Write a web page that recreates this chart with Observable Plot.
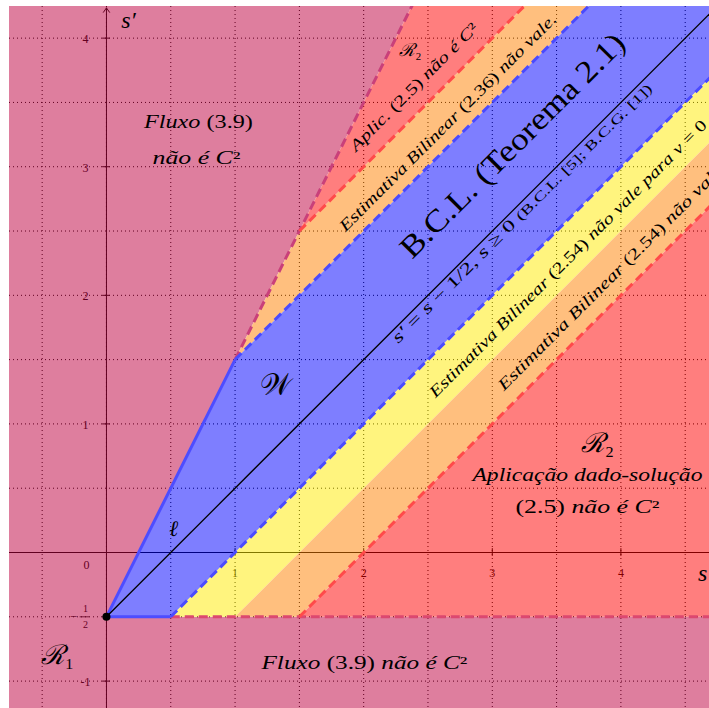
<!DOCTYPE html>
<html>
<head>
<meta charset="utf-8">
<script src="https://cdn.jsdelivr.net/npm/d3@7"></script>
<script src="https://cdn.jsdelivr.net/npm/@observablehq/plot@0.6"></script>
<style>
  html, body { margin: 0; padding: 0; background: #fff; }
  #chart svg { display: block; }
  #chart svg text, #chart svg tspan { font-family: "Liberation Serif", "DejaVu Serif", serif; }
</style>
</head>
<body>
<div id="chart"></div>
<script>
// ---------- data (in chart units: s horizontal, s' vertical) ----------
const sDomain = [-0.754, 4.689];
const spDomain = [-1.213, 4.246];

const gridS = [-0.5, 0, 0.5, 1, 1.5, 2, 2.5, 3, 3.5, 4, 4.5];
const gridSp = [-1, -0.5, 0, 0.5, 1, 1.5, 2, 2.5, 3, 3.5, 4];

const sTickValues = [1, 2, 3, 4];
const sTickLabels = ["1", "2", "3", "4"];
const originLabel = "0";
const spTickValues = [-1, 1, 2, 3, 4];
const spTickLabels = ["-1", "1", "2", "3", "4"];
const spTickMarks = [-1, -0.5, 1, 2, 3, 4];
const halfTick = -0.5; // labelled as the fraction -1/2

// region polygons (vertices), names and colours (drawn at 50% opacity)
const regionNames = ["R1", "R2 top", "orange top", "W", "yellow", "orange low", "R2 low"];
const regionColors = ["#bf0040", "#ff0000", "#ff8000", "#0000ff", "#ffeb00", "#ff8000", "#ff0000"];
const regionVertices = [
  [[-1, -2], [6, -2], [6, -0.5], [0, -0.5], [2.5, 4.5], [-1, 4.5]],
  [[1.5, 2.5], [2.5, 4.5], [3.5, 4.5]],
  [[1, 1.5], [1.5, 2.5], [3.5, 4.5], [4, 4.5]],
  [[0, -0.5], [1, 1.5], [4, 4.5], [5.5, 4.5], [0.5, -0.5]],
  [[0.5, -0.5], [5.5, 4.5], [6, 4.5], [1, -0.5]],
  [[1, -0.5], [6, 4.5], [6, 4], [1.5, -0.5]],
  [[1.5, -0.5], [6, 4], [6, -0.5]]
];

// boundary lines
const boundaryPurple = [[1, 1.5], [2.5, 4.5]];      // s' = 2s - 1/2
const boundaryRedTop = [[1.5, 2.5], [3.5, 4.5]];    // s' = s + 1
const boundaryBlueTop = [[1, 1.5], [4, 4.5]];       // s' = s + 1/2
const boundaryBlueLow = [[0.5, -0.5], [5.5, 4.5]];  // s' = s - 1
const boundaryRedLow = [[1.5, -0.5], [6, 4]];       // s' = s - 2
const boundaryBottom = [[0.5, -0.5], [6, -0.5]];    // s' = -1/2
const boundaryWLeft = [[0, -0.5], [1, 1.5]];
const boundaryWBottom = [[0, -0.5], [0.5, -0.5]];
const lineEll = [[0, -0.5], [5, 4.5]];              // s' = s - 1/2
const cornerPoint = [[0, -0.5]];

// ---------- annotations ----------
const labels = [
  {s: 0.715, sp: 3.344, rot: 0, size: 18.5, len: 109, parts: [["Fluxo", "i"], [" (3.9)", "n"]]},
  {s: 0.700, sp: 3.064, rot: 0, size: 18.5, len: 88, parts: [["não é C", "i"], ["²", "n"]]},
  {s: 3.818, sp: 0.848, rot: 0, size: 27, len: 0, parts: [["ℛ", "i"], ["₂", "n"]]},
  {s: 3.740, sp: 0.599, rot: 0, size: 18.5, len: 230, parts: [["Aplicação dado-solução", "i"]]},
  {s: 3.740, sp: 0.350, rot: 0, size: 18.5, len: 144, parts: [["(2.5) ", "n"], ["não é C", "i"], ["²", "n"]]},
  {s: 2.006, sp: -0.863, rot: 0, size: 18.5, len: 206, parts: [["Fluxo", "i"], [" (3.9) ", "n"], ["não é C", "i"], ["²", "n"]]},
  {s: -0.381, sp: -0.801, rot: 0, size: 27, len: 0, parts: [["ℛ", "i"], ["₁", "n"]]},
  {s: 1.314, sp: 1.299, rot: 0, size: 30, len: 0, parts: [["𝒲", "n"]]},
  {s: 0.521, sp: 0.187, rot: 0, size: 22, len: 0, parts: [["ℓ", "i"]]},
  {s: 2.364, sp: 3.904, rot: 0, size: 18, len: 0, parts: [["ℛ", "i"], ["₂", "n"]]},
  {s: 2.391, sp: 3.620, rot: -45, size: 16, len: 174, parts: [["Aplic.", "i"], [" (2.5) ", "n"], ["não é C", "i"], ["²", "n"]]},
  {s: 2.656, sp: 3.344, rot: -45, size: 16, len: 300, parts: [["Estimativa Bilinear", "i"], [" (2.36) ", "n"], ["não vale.", "i"]]},
  {s: 3.157, sp: 3.165, rot: -45, size: 31, len: 304, parts: [["B.C.L. (Teorema 2.1)", "n"]]},
  {s: 3.230, sp: 2.640, rot: -45, size: 16.5, len: 360, parts: [["s′", "i"], [" = ", "n"], ["s", "i"], [" − 1/2, ", "n"], ["s", "i"], [" ≥ 0 ", "n"], ["(B.C.L. [5]; B.C.G. [1])", "s"]]},
  {s: 3.589, sp: 2.286, rot: -45, size: 16, len: 385, parts: [["Estimativa Bilinear", "i"], [" (2.54) ", "n"], ["não vale para ν", "i"], [" = 0", "n"]]},
  {s: 3.915, sp: 2.135, rot: -45, size: 16, len: 310, parts: [["Estimativa Bilinear", "i"], [" (2.54) ", "n"], ["não vale", "i"]]},
  {s: 0.171, sp: 4.137, rot: 0, size: 24, len: 0, parts: [["s′", "i"]]},
  {s: 4.635, sp: -0.163, rot: 0, size: 24, len: 0, parts: [["s", "i"]]}
];
labels.forEach(d => d.text = d.parts.map(p => p[0]).join(""));

// ---------- build ----------
const regionRows = regionNames.flatMap((name, i) =>
  regionVertices[i].map(([s, sp]) => ({name, color: regionColors[i], s, sp})));

const FONT = "Liberation Serif";
const X = d => d[0], Y = d => d[1];
const seg = (data, opts) => Plot.line(data, {x: X, y: Y, clip: true, strokeLinecap: "butt", ...opts});
const dash = "9,5";
const tickHalf = 0.03;
const fracBar = [-0.205, -0.13];

const chart = Plot.plot({
  width: 709,
  height: 708,
  marginLeft: 9, marginTop: 6, marginRight: 0, marginBottom: 0,
  x: {domain: sDomain, axis: null},
  y: {domain: spDomain, axis: null},
  style: {background: "#fff", fontFamily: FONT, color: "#000"},
  marks: [
    // grid
    Plot.ruleX(gridS, {stroke: "#000", strokeWidth: 1, strokeDasharray: "1,3"}),
    Plot.ruleY(gridSp, {stroke: "#000", strokeWidth: 1, strokeDasharray: "1,3"}),
    // axes
    Plot.ruleY([0], {stroke: "#000", strokeWidth: 1}),
    Plot.arrow([{x1: 0, y1: spDomain[0], x2: 0, y2: 4.235}], {x1: "x1", y1: "y1", x2: "x2", y2: "y2", stroke: "#000", strokeWidth: 1, headLength: 8, headAngle: 70}),
    Plot.ruleX(sTickValues, {x: d => d, y1: -tickHalf, y2: tickHalf, stroke: "#000"}),
    Plot.ruleY(spTickMarks, {y: d => d, x1: -tickHalf, x2: tickHalf, stroke: "#000"}),
    Plot.text(sTickValues, {x: d => d, y: 0, text: (d, i) => sTickLabels[i], dy: 21, fontSize: 12, fill: "#000", fontFamily: FONT}),
    Plot.text([0], {x: d => d, y: 0, text: [originLabel], dx: -20, dy: 13, fontSize: 12, fill: "#000", fontFamily: FONT}),
    Plot.text(spTickValues, {x: 0, y: d => d, text: (d, i) => spTickLabels[i], dx: -21, dy: 1, fontSize: 12, fill: "#000", fontFamily: FONT}),
    // fraction -1/2
    Plot.text([halfTick], {x: 0, y: d => d, text: ["−"], dx: -33, dy: 0, fontSize: 13, fill: "#000", fontFamily: FONT}),
    Plot.text([halfTick], {x: 0, y: d => d, text: ["1"], dx: -21, dy: -8, fontSize: 10, fill: "#000", fontFamily: FONT}),
    Plot.text([halfTick], {x: 0, y: d => d, text: ["2"], dx: -21, dy: 8, fontSize: 10, fill: "#000", fontFamily: FONT}),
    Plot.ruleY([halfTick], {y: d => d, x1: fracBar[0], x2: fracBar[1], stroke: "#000", strokeWidth: 0.8}),
    // regions (group opacity applied after render)
    Plot.line(regionRows, {x: "s", y: "sp", z: "name", fill: "color", stroke: "none", clip: true}),
    // boundaries
    seg(boundaryBottom, {stroke: "#dc4870", strokeWidth: 3, strokeDasharray: dash}),
    seg(boundaryPurple, {stroke: "#c9407a", strokeWidth: 3, strokeDasharray: dash}),
    seg(boundaryRedTop, {stroke: "#ff4a4a", strokeWidth: 3, strokeDasharray: dash}),
    seg(boundaryBlueTop, {stroke: "#4a4aff", strokeWidth: 3, strokeDasharray: dash}),
    seg(boundaryBlueLow, {stroke: "#4a4aff", strokeWidth: 3, strokeDasharray: dash}),
    seg(boundaryRedLow, {stroke: "#ff4a4a", strokeWidth: 3, strokeDasharray: dash}),
    seg(boundaryWLeft, {stroke: "#4d4dff", strokeWidth: 3}),
    seg(boundaryWBottom, {stroke: "#4d4dff", strokeWidth: 3}),
    seg(lineEll, {stroke: "#000", strokeWidth: 1.3}),
    Plot.dot(cornerPoint, {x: X, y: Y, r: 4, fill: "#000", stroke: "none"}),
    // labels
    Plot.text(labels, {x: "s", y: "sp", text: "text", rotate: "rot", fontSize: "size", fill: "#000", textAnchor: "middle", lineAnchor: "middle", fontFamily: FONT})
  ]
});

// group opacity for the coloured regions
const regionGroup = [...chart.querySelectorAll("g")].find(g => {
  const p = g.querySelector(":scope > path");
  return p && p.getAttribute("fill") && regionColors.includes(p.getAttribute("fill"));
});
if (regionGroup) regionGroup.setAttribute("opacity", "0.5");

// rich text: italic / upright / small segments + fitted lengths (glyphs widened like Computer Modern)
const NS = "http://www.w3.org/2000/svg";
const labelGroup = [...chart.querySelectorAll("g")].find(g => {
  const t = g.querySelector(":scope > text");
  return t && t.textContent === labels[0].text;
});
if (labelGroup) {
  labelGroup.querySelectorAll(":scope > text").forEach((t, i) => {
    const d = labels[i];
    if (!d) return;
    while (t.firstChild) t.removeChild(t.firstChild);
    for (const [str, st] of d.parts) {
      const ts = document.createElementNS(NS, "tspan");
      ts.textContent = str;
      ts.setAttribute("font-style", st.includes("i") ? "italic" : "normal");
      if (st.includes("s")) ts.setAttribute("font-size", "0.8em");
      t.appendChild(ts);
    }
    if (d.len) {
      t.setAttribute("textLength", d.len);
      t.setAttribute("lengthAdjust", "spacingAndGlyphs");
    }
  });
}

document.getElementById("chart").appendChild(chart);
</script>
</body>
</html>
